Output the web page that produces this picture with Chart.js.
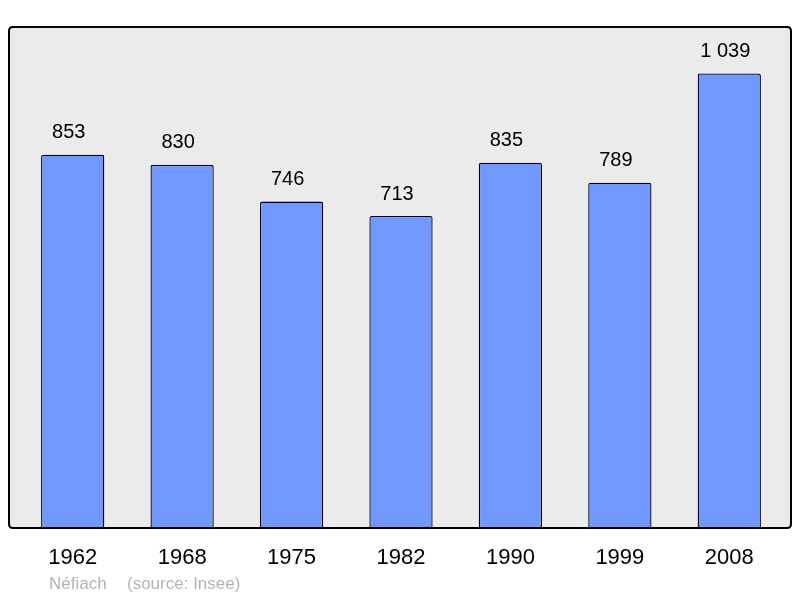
<!DOCTYPE html>
<html>
<head>
<meta charset="utf-8">
<script src="https://cdn.jsdelivr.net/npm/chart.js@4.4.1/dist/chart.umd.min.js"></script>
<style>
  html, body { margin: 0; padding: 0; background: #fff; }
  canvas { display: block; }
</style>
</head>
<body>
<canvas id="myChart" width="800" height="598"></canvas>
<script>
// population by census year
const years = ['1962', '1968', '1975', '1982', '1990', '1999', '2008'];
const population = [853, 830, 746, 713, 835, 789, 1039];
const townName = 'Néfiach';
const sourceNote = '(source: Insee)';

const fmt = v => String(v).replace(/\B(?=(\d{3})+(?!\d))/g, ' ');

function roundRect(ctx, x, y, w, h, r) {
  ctx.beginPath();
  ctx.moveTo(x + r, y);
  ctx.lineTo(x + w - r, y);
  ctx.quadraticCurveTo(x + w, y, x + w, y + r);
  ctx.lineTo(x + w, y + h - r);
  ctx.quadraticCurveTo(x + w, y + h, x + w - r, y + h);
  ctx.lineTo(x + r, y + h);
  ctx.quadraticCurveTo(x, y + h, x, y + h - r);
  ctx.lineTo(x, y + r);
  ctx.quadraticCurveTo(x, y, x + r, y);
  ctx.closePath();
}

// grey frame behind the bars, outline on top
const framePlugin = {
  id: 'frame',
  beforeDatasetsDraw(chart) {
    const { ctx, chartArea: a } = chart;
    ctx.save();
    roundRect(ctx, a.left - 9, a.top, a.right - a.left + 16, a.bottom - a.top, 4);
    ctx.fillStyle = '#ebebeb';
    ctx.fill();
    ctx.restore();
  },
  afterDatasetsDraw(chart) {
    const { ctx, chartArea: a } = chart;
    ctx.save();
    roundRect(ctx, a.left - 9, a.top, a.right - a.left + 16, a.bottom - a.top, 4);
    ctx.lineWidth = 2;
    ctx.strokeStyle = '#000';
    ctx.stroke();

    // value labels above bars
    ctx.font = '20px "Liberation Sans", Arial, sans-serif';
    ctx.fillStyle = '#000';
    ctx.textAlign = 'center';
    ctx.textBaseline = 'middle';
    chart.getDatasetMeta(0).data.forEach((bar, i) => {
      ctx.fillText(fmt(population[i]), bar.x - 4, bar.y - 22);
    });

    // footer
    ctx.font = '17px "Liberation Sans", Arial, sans-serif';
    ctx.fillStyle = '#b4b4b4';
    ctx.textAlign = 'left';
    ctx.fillText(townName, 49, 584);
    ctx.fillText(sourceNote, 127, 584);
    ctx.restore();
  }
};

const ctx = document.getElementById('myChart').getContext('2d');
const myChart = new Chart(ctx, {
  type: 'bar',
  data: {
    labels: years,
    datasets: [{
      data: population,
      backgroundColor: '#7098ff',
      borderColor: '#000',
      borderWidth: 1.3,
      borderSkipped: 'bottom',
      borderRadius: { topLeft: 2, topRight: 2 },
      categoryPercentage: 1,
      barPercentage: 0.578
    }]
  },
  options: {
    responsive: false,
    animation: false,
    devicePixelRatio: 1,
    layout: { padding: { left: 18, right: 16, top: 27, bottom: 0 } },
    plugins: {
      legend: { display: false },
      tooltip: { enabled: false }
    },
    scales: {
      x: {
        grid: { display: false, drawTicks: false },
        border: { display: false },
        ticks: {
          color: '#000',
          font: { size: 22, family: '"Liberation Sans", Arial, sans-serif' },
          padding: 17
        },
        afterFit(scale) { scale.height = 70; }
      },
      y: {
        display: false,
        min: 0,
        max: 1145
      }
    }
  },
  plugins: [framePlugin]
});
</script>
</body>
</html>
